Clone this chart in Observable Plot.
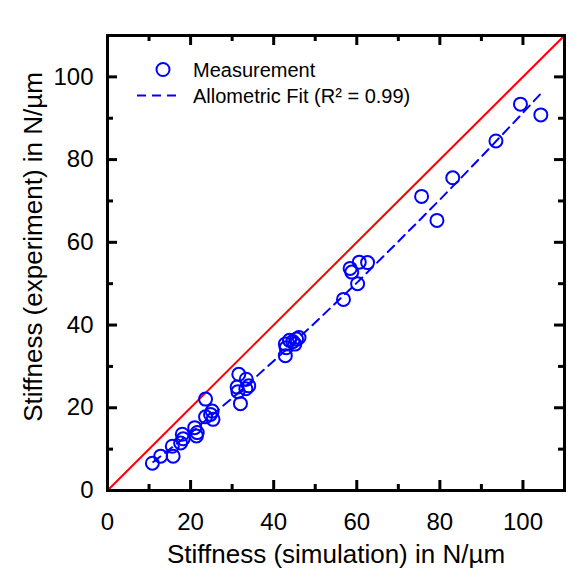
<!DOCTYPE html>
<html><head><meta charset="utf-8">
<script src="https://cdn.jsdelivr.net/npm/d3@7"></script>
<script src="https://cdn.jsdelivr.net/npm/@observablehq/plot@0.6"></script>
<style>body{margin:0;background:#fff;} svg{font-family: Arial, "Liberation Sans", sans-serif;}</style>
</head><body><div id="chart"></div>
<script>
// Data
const simulation = [10.8,12.8,15.8,15.6,17.6,18.2,18.0,21.0,21.4,21.6,23.6,23.6,24.8,25.2,25.4,
  31.6,33.4,31.2,31.4,33.3,34.0,32.0,
  42.8,43.0,42.8,43.8,44.6,45.5,45.1,46.1,
  56.8,58.4,58.8,60.6,62.6,60.2,
  75.6,79.3,83.1,93.5,99.4,104.3];
const experiment = [6.6,8.3,8.3,10.7,11.5,12.5,13.6,15.2,13.2,14.0,22.1,17.8,18.4,19.2,17.2,
  28.1,26.9,25.0,23.9,24.6,25.3,21.0,
  32.6,34.5,35.4,36.3,36.0,36.6,35.4,37.0,
  46.2,53.7,52.8,55.2,55.1,50.0,
  71.1,65.3,75.6,84.5,93.4,90.8];
// Allometric fit curve (as drawn)
const fitX = [11,20,30,40,50,60,70,80,90,100,104.7];
const fitY = [6.9,13.9,22.3,31.3,40.6,50.2,60.2,70.3,80.7,91.3,96.4];
const identity = [0,110];
const majorTicks = [0,20,40,60,80,100];
const minorTicks = [10,30,50,70,90];
const seriesNames = ["Measurement","Allometric Fit (R\u00b2 = 0.99)"];
const xTitle = "Stiffness (simulation) in N/\u00b5m";
const yTitle = "Stiffness (experiment) in N/\u00b5m";

const points = simulation.map((x,i)=>({x, y: experiment[i]}));
const fit = fitX.map((x,i)=>({x, y: fitY[i]}));

const W=584,H=577,mL=107,mR=20,mT=35,mB=87;
const fw=W-mL-mR, fh=H-mT-mB;
const majorLen=10, minorLen=6;
const blue="#0000ff";

const chart = Plot.plot({
  width: W, height: H, marginLeft: mL, marginRight: mR, marginTop: mT, marginBottom: mB,
  style: {fontFamily: "Arial, 'Liberation Sans', sans-serif", background: "white", color: "black"},
  x: {domain: [0,110]},
  y: {domain: [0,110]},
  marks: [
    Plot.line(identity, {x: d=>d, y: d=>d, stroke: "#ff0000", strokeWidth: 2}),
    Plot.line(fit, {x: "x", y: "y", stroke: blue, strokeWidth: 2, strokeDasharray: "9,6"}),
    Plot.dot(points, {x: "x", y: "y", r: 6.5, stroke: blue, strokeWidth: 2, fill: "none"}),
    Plot.tickX(majorTicks, {x: d=>d, insetTop: fh-majorLen, stroke: "black", strokeWidth: 3}),
    Plot.tickX(minorTicks, {x: d=>d, insetTop: fh-minorLen, stroke: "black", strokeWidth: 3}),
    Plot.tickX(majorTicks, {x: d=>d, insetBottom: fh-majorLen, stroke: "black", strokeWidth: 3}),
    Plot.tickX(minorTicks, {x: d=>d, insetBottom: fh-minorLen, stroke: "black", strokeWidth: 3}),
    Plot.tickY(majorTicks, {y: d=>d, insetRight: fw-majorLen, stroke: "black", strokeWidth: 3}),
    Plot.tickY(minorTicks, {y: d=>d, insetRight: fw-minorLen, stroke: "black", strokeWidth: 3}),
    Plot.tickY(majorTicks, {y: d=>d, insetLeft: fw-majorLen, stroke: "black", strokeWidth: 3}),
    Plot.tickY(minorTicks, {y: d=>d, insetLeft: fw-minorLen, stroke: "black", strokeWidth: 3}),
    Plot.axisX({ticks: majorTicks, tickSize: 0, tickPadding: 22, fontSize: 24, label: null}),
    Plot.axisY({ticks: majorTicks, tickSize: 0, tickPadding: 14, fontSize: 24, label: null}),
    Plot.frame({stroke: "black", strokeWidth: 3}),
    Plot.text([xTitle], {text: d=>d, frameAnchor: "bottom", textAnchor: "middle", dy: 72, fontSize: 26, fill: "black"}),
    Plot.text([yTitle], {text: d=>d, frameAnchor: "left", textAnchor: "middle", dx: 33-mL, dy: -16, rotate: -90, fontSize: 26, fill: "black"})
  ]
});

// Legend
const svg = d3.select(chart);
const lg = svg.append("g").attr("font-size", 20).attr("fill", "black").attr("text-anchor", "start");
lg.append("circle").attr("cx", 163).attr("cy", 69.5).attr("r", 6.5)
  .attr("fill", "none").attr("stroke", blue).attr("stroke-width", 2);
lg.append("text").attr("x", 193).attr("y", 70).attr("dy", "0.35em").text(seriesNames[0]);
lg.append("line").attr("x1", 137).attr("x2", 182).attr("y1", 95.5).attr("y2", 95.5)
  .attr("stroke", blue).attr("stroke-width", 2).attr("stroke-dasharray", "9,6");
lg.append("text").attr("x", 193).attr("y", 96).attr("dy", "0.35em").text(seriesNames[1]);

document.getElementById("chart").appendChild(chart);
</script>
</body></html>
